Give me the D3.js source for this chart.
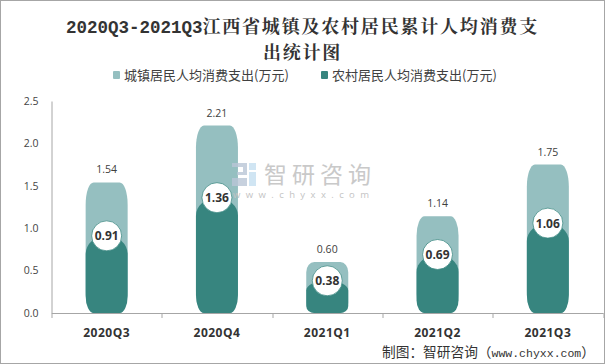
<!DOCTYPE html>
<html>
<head>
<meta charset="utf-8">
<script src="https://cdn.jsdelivr.net/npm/d3@7"></script>
<style>
  html, body { margin: 0; padding: 0; background: #fff; }
  svg { display: block; }
</style>
</head>
<body>
<div id="wrapper"></div>
<script>
const titleLines = ["2020Q3-2021Q3江西省城镇及农村居民累计人均消费支", "出统计图"]
const seriesNames = ["城镇居民人均消费支出(万元)", "农村居民人均消费支出(万元)"]
const seriesColors = ["#95bfc0", "#37857f"]
const categories = ["2020Q3", "2020Q4", "2021Q1", "2021Q2", "2021Q3"]
const urban = [1.54, 2.21, 0.60, 1.14, 1.75]
const rural = [0.91, 1.36, 0.38, 0.69, 1.06]
const yTicks = [0, 0.5, 1, 1.5, 2, 2.5]
const sourceText = "制图\uff1a智研咨询\uff08www.chyxx.com\uff09"

const dimensions = {
  width: 605,
  height: 364,
  margins: { top: 101, right: 2, bottom: 51, left: 51.5 }
}
dimensions.boundedWidth = dimensions.width - dimensions.margins.left - dimensions.margins.right
dimensions.boundedHeight = dimensions.height - dimensions.margins.top - dimensions.margins.bottom

const wrapper = d3.select("#wrapper")
  .append("svg")
  .attr("width", dimensions.width)
  .attr("height", dimensions.height)

// outer frame
wrapper.append("rect")
  .attr("x", 0.5).attr("y", 0.5)
  .attr("width", dimensions.width - 1).attr("height", dimensions.height - 1)
  .attr("fill", "#fff").attr("stroke", "#a6a6a6")

const bounds = wrapper.append("g")
  .attr("transform", `translate(${dimensions.margins.left},${dimensions.margins.top})`)

const xScale = d3.scaleBand()
  .domain(categories)
  .range([0, dimensions.boundedWidth])
const yScale = d3.scaleLinear()
  .domain([0, 2.5])
  .range([dimensions.boundedHeight, 0])

// bar outline: flat-ish top and bottom with long elliptical corners
function barPath(x, top, width, bottom, topRx, topRy, botRx, botRy) {
  return `M${x},${bottom - botRy}` +
    `L${x},${top + topRy}` +
    `A${topRx},${topRy} 0 0 1 ${x + topRx},${top}` +
    `L${x + width - topRx},${top}` +
    `A${topRx},${topRy} 0 0 1 ${x + width},${top + topRy}` +
    `L${x + width},${bottom - botRy}` +
    `A${botRx},${botRy} 0 0 1 ${x + width - botRx},${bottom}` +
    `L${x + botRx},${bottom}` +
    `A${botRx},${botRy} 0 0 1 ${x},${bottom - botRy}Z`
}

// latin runs get a fixed-width face, the way the original's song font looks
function mixedText(sel, latinFont, latinSize) {
  const isLatin = d => /^[\x00-\x7f]/.test(d)
  sel.selectAll("tspan")
    .data(d => d.match(/[\x00-\x7f]+|[^\x00-\x7f]+/g))
    .join("tspan")
    .style("font-family", d => isLatin(d) ? latinFont : null)
    .style("font-size", d => isLatin(d) ? latinSize : null)
    .style("letter-spacing", d => isLatin(d) ? "0px" : null)
    .text(d => d)
}

const barWidth = 42
const barX = d => xScale(d) + (xScale.bandwidth() - barWidth) / 2
const center = d => xScale(d) + xScale.bandwidth() / 2
const y0 = yScale(0)

bounds.selectAll(".urban")
  .data(categories)
  .join("path")
  .attr("class", "urban")
  .attr("fill", seriesColors[0])
  .attr("d", (d, i) => {
    const h = y0 - yScale(urban[i])
    const ry = Math.min(h * 0.2, 22)
    return barPath(barX(d), yScale(urban[i]), barWidth, y0, 8, ry, 8, ry)
  })

bounds.selectAll(".rural")
  .data(categories)
  .join("path")
  .attr("class", "rural")
  .attr("fill", seriesColors[1])
  .attr("d", (d, i) => {
    const h = y0 - yScale(rural[i])
    const ry = Math.min(h * 0.3, 18)
    return barPath(barX(d), yScale(rural[i]), barWidth, y0, 21, ry, 8, Math.min(h * 0.22, 18))
  })

// watermark, faint and over the bar edge
const mark = wrapper.append("g")
mark.append("path")
  .attr("d", "M232,163H247V175H237V172H243V167H232ZM232,178H247V186H232Z")
  .attr("fill", "#b9c6d6").attr("opacity", 0.8)
mark.append("path")
  .attr("d", "M249,163H256V170H249ZM249,172H256V186H249Z")
  .attr("fill", "#c4def0").attr("opacity", 0.8)
mark.append("text")
  .attr("x", 264).attr("y", 182.5)
  .attr("fill", "#c9c9c9")
  .style("font-family", "'Noto Sans CJK SC'")
  .style("font-size", "23px")
  .style("letter-spacing", "5px")
  .text("智研咨询")
mark.append("text")
  .attr("x", 233).attr("y", 198)
  .attr("fill", "#c4c4c4")
  .style("font-family", "'Open Sans'")
  .style("font-size", "9.5px")
  .style("letter-spacing", "5.4px")
  .text("www.chyxx.com")

// axes
const xAxis = bounds.append("g")
  .attr("transform", `translate(0,${y0})`)
  .call(d3.axisBottom(xScale).tickSize(0).tickPadding(15))
xAxis.select(".domain").attr("stroke", "#a6a6a6")
xAxis.selectAll("text")
  .attr("fill", "#333")
  .style("font-family", "'Open Sans'")
  .style("font-size", "12px")
  .style("font-weight", "bold")
  .style("letter-spacing", "0.5px")

bounds.append("g")
  .selectAll("line")
  .data(d3.range(categories.length + 1))
  .join("line")
  .attr("x1", i => Math.round(i * xScale.bandwidth()) + 0.5)
  .attr("x2", i => Math.round(i * xScale.bandwidth()) + 0.5)
  .attr("y1", y0)
  .attr("y2", y0 + 5)
  .attr("stroke", "#a6a6a6")

const yAxis = bounds.append("g")
  .call(d3.axisLeft(yScale).tickValues(yTicks).tickSize(0).tickPadding(13).tickFormat(d3.format(".1f")))
yAxis.select(".domain").attr("stroke", "#a6a6a6")
yAxis.selectAll("text")
  .attr("fill", "#444")
  .style("font-family", "'Open Sans'")
  .style("font-size", "10.5px")

// labels
bounds.selectAll(".urbanLabel")
  .data(categories)
  .join("text")
  .attr("class", "urbanLabel")
  .attr("x", center)
  .attr("y", (d, i) => yScale(urban[i]) - 9)
  .attr("text-anchor", "middle")
  .attr("fill", "#404040")
  .style("font-family", "'Open Sans'")
  .style("font-size", "10.5px")
  .text((d, i) => urban[i].toFixed(2))

bounds.selectAll(".ruralDot")
  .data(categories)
  .join("circle")
  .attr("class", "ruralDot")
  .attr("cx", center)
  .attr("cy", (d, i) => yScale(rural[i]))
  .attr("r", 15)
  .attr("fill", "#fff")
  .attr("stroke", seriesColors[1])
  .attr("stroke-width", 0.75)

bounds.selectAll(".ruralLabel")
  .data(categories)
  .join("text")
  .attr("class", "ruralLabel")
  .attr("x", center)
  .attr("y", (d, i) => yScale(rural[i]) + 4.5)
  .attr("text-anchor", "middle")
  .attr("fill", "#333")
  .style("font-family", "'Open Sans'")
  .style("font-size", "12px")
  .style("font-weight", "bold")
  .text((d, i) => rural[i].toFixed(2))

// title
wrapper.append("g").selectAll("text")
  .data(titleLines)
  .join("text")
  .attr("x", 302.5)
  .attr("y", (d, i) => 32.5 + i * 26)
  .attr("text-anchor", "middle")
  .attr("fill", "#333")
  .style("font-family", "'Noto Serif CJK SC', 'Liberation Serif', 'Noto Sans CJK SC'")
  .style("font-size", "18px")
  .style("letter-spacing", "1.8px")
  .style("font-weight", "bold")
  .call(mixedText, "'Liberation Mono'", "17.5px")

// legend
const legendX = [113, 321]
const legend = wrapper.append("g").selectAll("g")
  .data(seriesNames)
  .join("g")
  .attr("transform", (d, i) => `translate(${legendX[i]},0)`)
legend.append("rect")
  .attr("y", 71).attr("width", 7).attr("height", 8).attr("rx", 1)
  .attr("fill", (d, i) => seriesColors[i])
legend.append("text")
  .attr("x", 11).attr("y", 80)
  .attr("fill", "#404040")
  .style("font-family", "'Noto Sans CJK SC'")
  .style("font-size", "13px")
  .text(d => d)

// source note
wrapper.append("text")
  .datum(sourceText)
  .attr("x", 382).attr("y", 357)
  .attr("fill", "#333")
  .style("font-family", "'Noto Sans CJK SC'")
  .style("font-size", "13.7px")
  .call(mixedText, "'Liberation Mono'", "11.5px")
</script>
</body>
</html>
